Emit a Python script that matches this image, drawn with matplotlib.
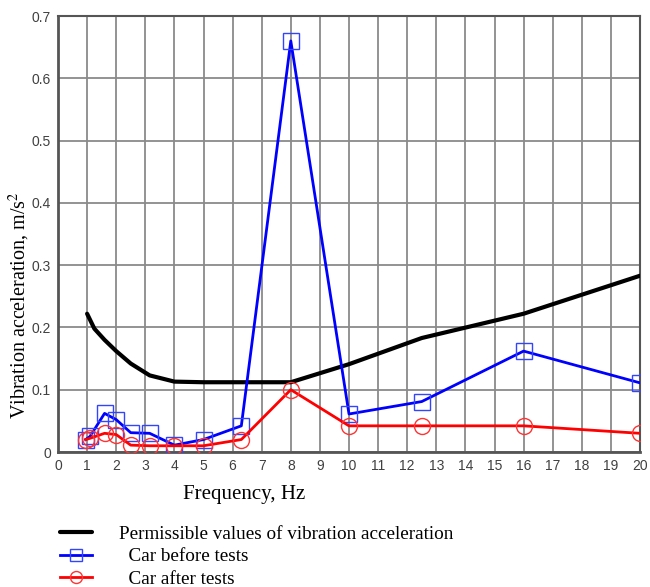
import matplotlib
matplotlib.use("Agg")
import matplotlib.pyplot as plt

# Data
freq_perm = [1.0, 1.25, 1.6, 2.0, 2.5, 3.15, 4.0, 5.0, 6.3, 8.0, 10.0, 12.5, 16.0, 20.0]
perm = [0.222, 0.198, 0.18, 0.162, 0.142, 0.123, 0.113, 0.112, 0.112, 0.112, 0.141, 0.183, 0.222, 0.283]

freq_before = [0.95, 1.1, 1.6, 2.0, 2.5, 3.15, 4.0, 5.0, 6.3, 8.0, 10.0, 12.5, 16.0, 20.0]
before = [0.02, 0.025, 0.062, 0.052, 0.031, 0.03, 0.011, 0.02, 0.042, 0.66, 0.061, 0.081, 0.162, 0.111]

freq_after = [0.95, 1.1, 1.6, 2.0, 2.5, 3.15, 4.0, 5.0, 6.3, 8.0, 10.0, 12.5, 16.0, 20.0]
after = [0.02, 0.022, 0.03, 0.028, 0.011, 0.01, 0.01, 0.01, 0.02, 0.1, 0.042, 0.042, 0.042, 0.03]

x_ticks = list(range(0, 21))
y_ticks = [0, 0.1, 0.2, 0.3, 0.4, 0.5, 0.6, 0.7]
y_ticklabels = ["0", "0.1", "0.2", "0.3", "0.4", "0.5", "0.6", "0.7"]

labels = ["Permissible values of vibration acceleration",
          "  Car before tests",
          "  Car after tests"]

fig = plt.figure(figsize=(6.5, 5.87), dpi=100)
ax = fig.add_axes([58/650, 1 - 452/587, (640-58)/650, (452-16)/587])

l1, = ax.plot(freq_perm, perm, color="black", lw=3, solid_capstyle="round", zorder=3)
l2, = ax.plot(freq_before, before, color="#0000ff", lw=2, marker="s", ms=11.5,
              mfc="none", mec="#3344ff", mew=1.0, zorder=4)
l3, = ax.plot(freq_after, after, color="#ff0000", lw=2, marker="o", ms=11.5,
              mfc="none", mec="#ff3333", mew=1.0, zorder=4)

ax.set_xlim(0, 20)
ax.set_ylim(0, 0.7)
ax.set_xticks(x_ticks)
ax.set_yticks(y_ticks)
ax.set_yticklabels(y_ticklabels)
ax.grid(True, color="#8a8a8a", lw=1.3)
ax.set_axisbelow(True)
ax.tick_params(length=0, labelsize=10, colors="#404040", pad=5)
for lab in ax.get_xticklabels() + ax.get_yticklabels():
    lab.set_family("Liberation Sans")
for sp in ax.spines.values():
    sp.set_color("#555555")
    sp.set_linewidth(1.5)
ax.spines["left"].set_linewidth(2)
ax.spines["bottom"].set_linewidth(2)

fig.text(244/650, 1 - 495/587, "Frequency, Hz", family="Liberation Serif",
         fontsize=15, ha="center", va="center")
fig.text(19/650, 1 - 305/587, "Vibration acceleration, m/s$^2$", family="Liberation Serif",
         fontsize=14.5, ha="center", va="center", rotation=90, math_fontfamily="stix")

leg = fig.legend([l1, l2, l3], labels, loc="upper left",
                 bbox_to_anchor=(52/650, 1 - 518/587), frameon=False,
                 prop={"family": "Liberation Serif", "size": 13.8},
                 handlelength=1.7, handletextpad=1.4, labelspacing=0.25,
                 borderaxespad=0, markerscale=0.75)

fig.savefig("out.png", dpi=100)
